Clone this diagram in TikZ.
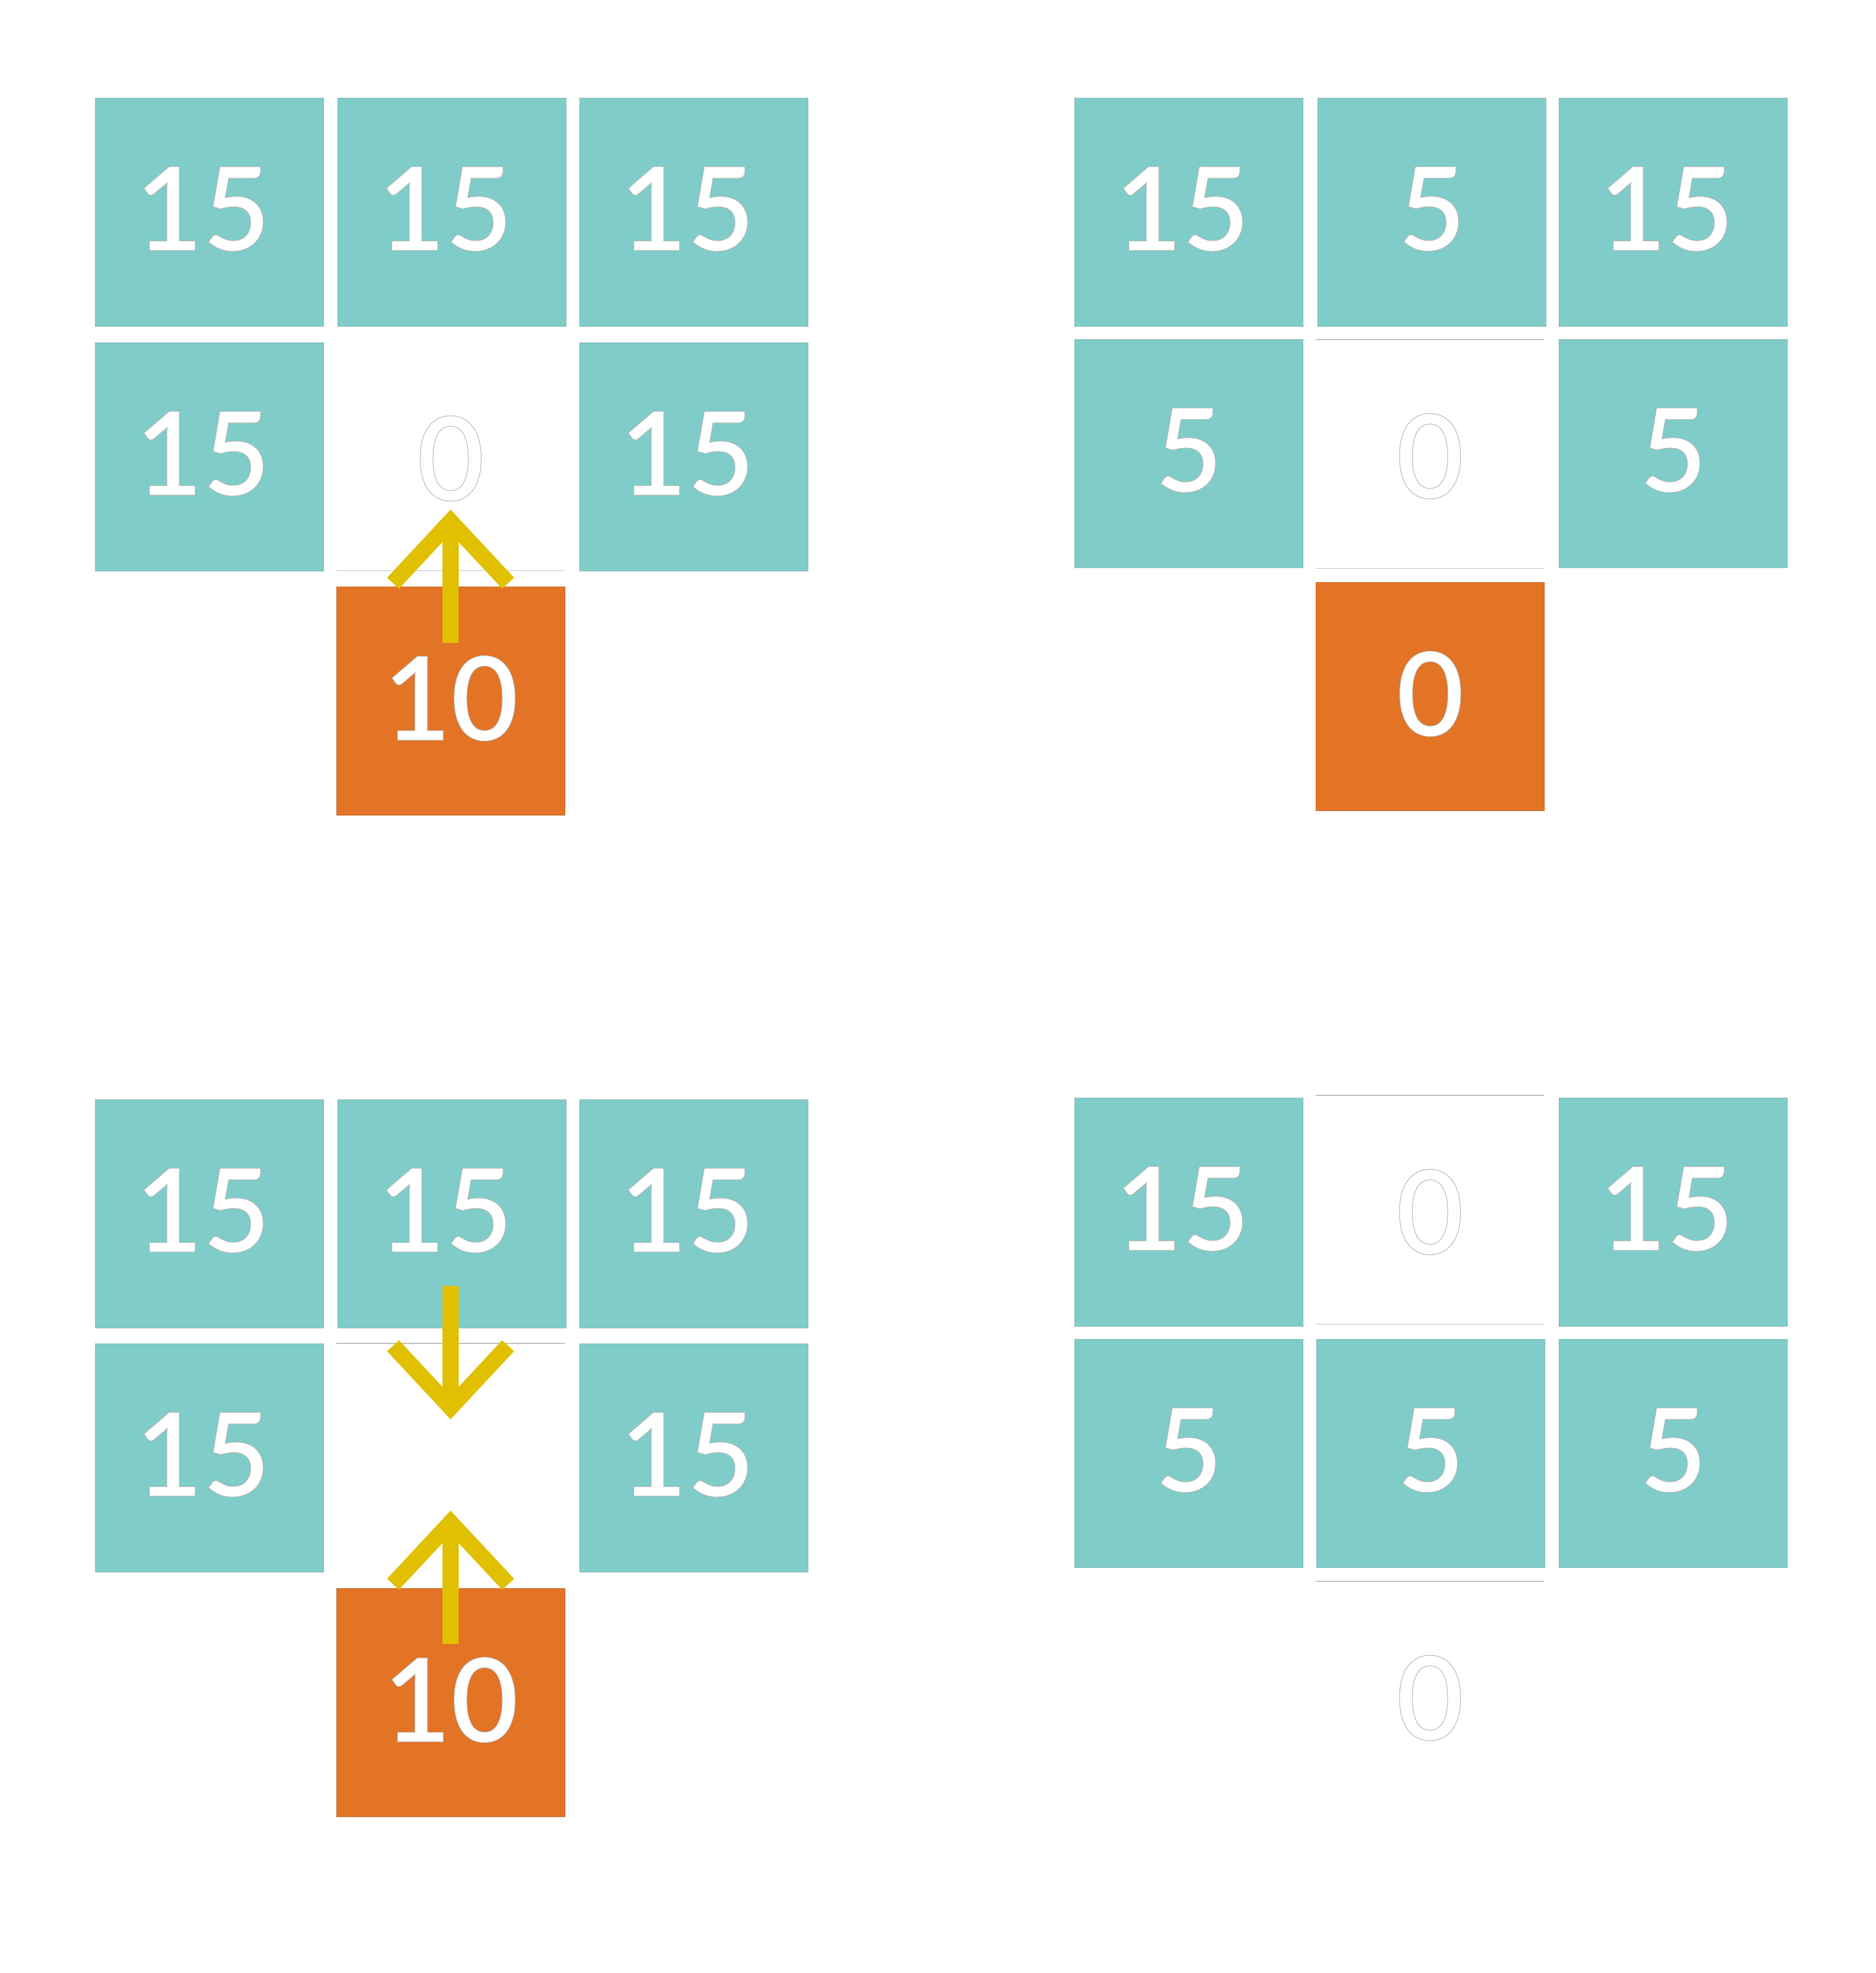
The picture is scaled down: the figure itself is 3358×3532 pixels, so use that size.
\documentclass[tikz,border=0pt]{standalone}
\usepackage{fontspec}
\setmainfont{Lato}[UprightFont={Lato Semibold}]
\definecolor{cellteal}{RGB}{127,204,200}
\definecolor{celledge}{RGB}{150,190,187}
\definecolor{cellorange}{RGB}{227,115,37}
\definecolor{orangeedge}{RGB}{200,120,70}
\definecolor{arrowyellow}{RGB}{224,192,0}
\definecolor{edgegray}{RGB}{190,190,190}
\newcommand\outlined[1]{\special{pdf:literal direct 2 Tr 0.74 G 1.2 w}#1\special{pdf:literal direct 0 Tr}}
\begin{document}
\begin{tikzpicture}[x=1pt,y=-1pt,
  cell/.style={rectangle,minimum width=409pt,minimum height=409pt,inner sep=0pt,anchor=north west},
  tealcell/.style={cell,fill=cellteal,draw=celledge,line width=1.2pt},
  orangecell/.style={cell,fill=cellorange,draw=orangeedge,line width=1.2pt},
  blankcell/.style={cell},
  num/.style={inner sep=0pt,text=white,font=\fontsize{208pt}{250pt}\selectfont},
  fifteen/.style={num,xshift=-12pt},
  celledgeline/.style={draw=edgegray,line width=1.5pt},
  arrowline/.style={draw=arrowyellow,line width=29pt,line cap=butt,line join=miter,miter limit=10},
]
\useasboundingbox (0,0) rectangle (3358,3532);
\fill[white] (0,0) rectangle (3358,3532);

% ---------- top-left panel ----------
\node[tealcell] (tl11) at (170,175) {};
\node[tealcell] (tl12) at (604,175) {};
\node[tealcell] (tl13) at (1037,175) {};
\node[tealcell] (tl21) at (170,613) {};
\node[blankcell] (tl22) at (602,612) {};
\node[tealcell] (tl23) at (1037,613) {};
\node[orangecell] (tl32) at (602,1050) {};
\draw[celledgeline] (tl22.south west) -- (tl22.south east);
\node[fifteen] (ttl11) at ([yshift=6pt]tl11.center) {\outlined{15}};
\node[fifteen] (ttl12) at ([yshift=6pt]tl12.center) {\outlined{15}};
\node[fifteen] (ttl13) at ([yshift=6pt]tl13.center) {\outlined{15}};
\node[fifteen] (ttl21) at ([yshift=6pt]tl21.center) {\outlined{15}};
\node[num] (ttl22) at ([yshift=-4pt]tl22.center) {\outlined{0}};
\node[fifteen] (ttl23) at ([yshift=6pt]tl23.center) {\outlined{15}};
\node[num] (ttl32) at ([yshift=5pt]tl32.center) {\outlined{10}};
\coordinate (a1s) at (806.5,1151);
\coordinate (a1e) at (806.5,933.5);
\draw[arrowline] (a1s) -- (a1e);
\draw[arrowline] (a1e) ++(-103,110.5) -- (a1e) -- ++(103,110.5);

% ---------- top-right panel ----------
\node[tealcell] (tr11) at (1923,175) {};
\node[tealcell] (tr12) at (2358,175) {};
\node[tealcell] (tr13) at (2790,175) {};
\node[tealcell] (tr21) at (1923,607) {};
\node[blankcell] (tr22) at (2355,608) {};
\node[tealcell] (tr23) at (2790,607) {};
\node[orangecell] (tr32) at (2355,1042) {};
\draw[celledgeline] (tr22.north west) -- (tr22.north east);
\draw[celledgeline] (tr22.south west) -- (tr22.south east);
\node[fifteen] (ttr11) at ([yshift=6pt]tr11.center) {\outlined{15}};
\node[num] (ttr12) at ([yshift=6pt]tr12.center) {\outlined{5}};
\node[fifteen] (ttr13) at ([yshift=6pt]tr13.center) {\outlined{15}};
\node[num] (ttr21) at ([yshift=6pt]tr21.center) {\outlined{5}};
\node[num] (ttr22) at ([yshift=-4pt]tr22.center) {\outlined{0}};
\node[num] (ttr23) at ([yshift=6pt]tr23.center) {\outlined{5}};
\node[num] (ttr32) at ([yshift=5pt]tr32.center) {\outlined{0}};

% ---------- bottom-left panel ----------
\node[tealcell] (bl11) at (170,1968) {};
\node[tealcell] (bl12) at (604,1968) {};
\node[tealcell] (bl13) at (1037,1968) {};
\node[tealcell] (bl21) at (170,2405) {};
\node[blankcell] (bl22) at (602,2405) {};
\node[tealcell] (bl23) at (1037,2405) {};
\node[orangecell] (bl32) at (602,2843) {};
\draw[celledgeline] (bl22.north west) -- (bl22.north east);
\node[fifteen] (tbl11) at ([yshift=6pt]bl11.center) {\outlined{15}};
\node[fifteen] (tbl12) at ([yshift=6pt]bl12.center) {\outlined{15}};
\node[fifteen] (tbl13) at ([yshift=6pt]bl13.center) {\outlined{15}};
\node[fifteen] (tbl21) at ([yshift=6pt]bl21.center) {\outlined{15}};
\node[fifteen] (tbl23) at ([yshift=6pt]bl23.center) {\outlined{15}};
\node[num] (tbl32) at ([yshift=5pt]bl32.center) {\outlined{10}};
\coordinate (a2s) at (806.5,2302);
\coordinate (a2e) at (806.5,2519.5);
\draw[arrowline] (a2s) -- (a2e);
\draw[arrowline] (a2e) ++(-103,-110.5) -- (a2e) -- ++(103,-110.5);
\coordinate (a3s) at (806.5,2943);
\coordinate (a3e) at (806.5,2725.5);
\draw[arrowline] (a3s) -- (a3e);
\draw[arrowline] (a3e) ++(-103,110.5) -- (a3e) -- ++(103,110.5);

% ---------- bottom-right panel ----------
\node[tealcell] (br11) at (1923,1965) {};
\node[blankcell] (br12) at (2355,1961) {};
\node[tealcell] (br13) at (2790,1965) {};
\node[tealcell] (br21) at (1923,2397) {};
\node[tealcell] (br22) at (2356,2397) {};
\node[tealcell] (br23) at (2790,2397) {};
\node[blankcell] (br32) at (2355,2831) {};
\draw[celledgeline] (br12.north west) -- (br12.north east);
\draw[celledgeline] (br12.south west) -- (br12.south east);
\draw[celledgeline] (br32.north west) -- (br32.north east);
\node[fifteen] (tbr11) at ([yshift=6pt]br11.center) {\outlined{15}};
\node[num] (tbr12) at ([yshift=-4pt]br12.center) {\outlined{0}};
\node[fifteen] (tbr13) at ([yshift=6pt]br13.center) {\outlined{15}};
\node[num] (tbr21) at ([yshift=6pt]br21.center) {\outlined{5}};
\node[num] (tbr22) at ([yshift=6pt]br22.center) {\outlined{5}};
\node[num] (tbr23) at ([yshift=6pt]br23.center) {\outlined{5}};
\node[num] (tbr32) at ([yshift=-4pt]br32.center) {\outlined{0}};
\end{tikzpicture}
\end{document}
